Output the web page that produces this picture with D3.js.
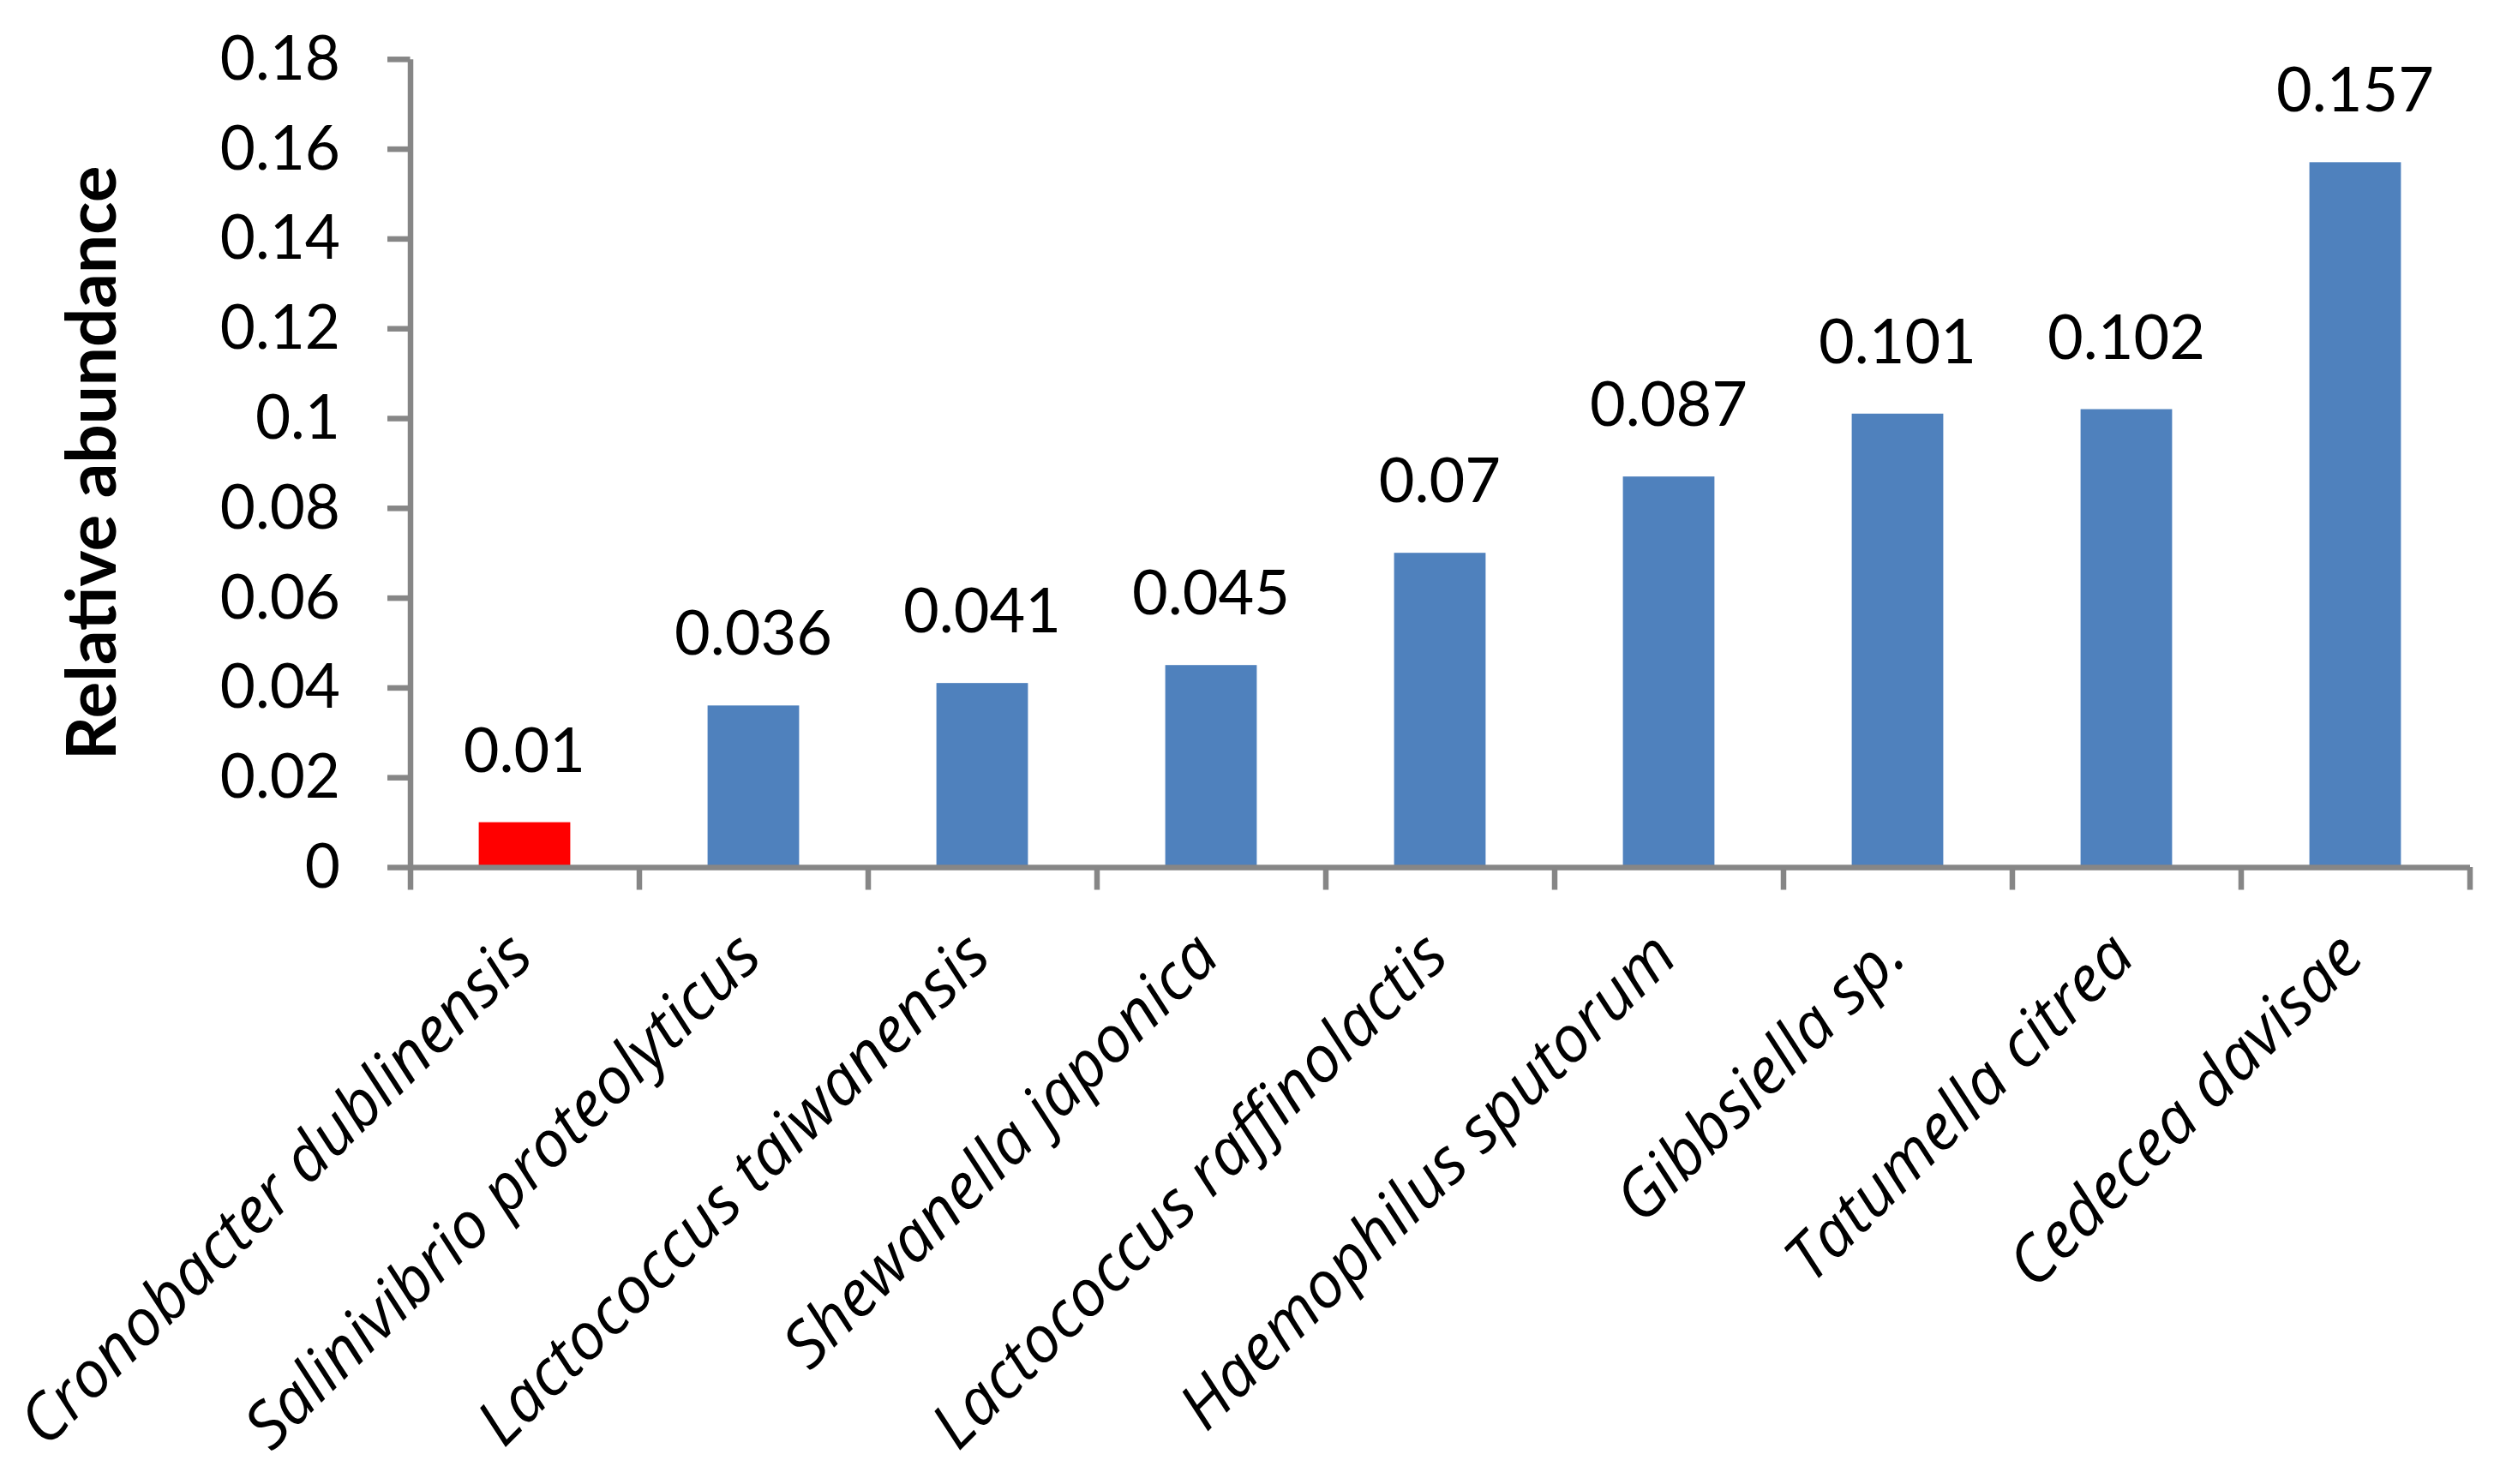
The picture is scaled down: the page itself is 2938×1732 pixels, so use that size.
<!DOCTYPE html>
<html>
<head>
<meta charset="utf-8">
<script src="https://cdn.jsdelivr.net/npm/d3@7"></script>
<style>
  html, body { margin: 0; padding: 0; background: #ffffff; }
  svg { display: block; }
</style>
</head>
<body>
<svg id="chart" width="2938" height="1732"></svg>
<script>
// ---- data ----
const categories = [
  "Cronobacter dublinensis",
  "Salinivibrio proteolyticus",
  "Lactococcus taiwanensis",
  "Shewanella japonica",
  "Lactococcus raffinolactis",
  "Haemophilus sputorum",
  "Gibbsiella sp.",
  "Tatumella citrea",
  "Cedecea davisae"
];
const values = [0.01, 0.036, 0.041, 0.045, 0.07, 0.087, 0.101, 0.102, 0.157];
const valueLabels = ["0.01", "0.036", "0.041", "0.045", "0.07", "0.087", "0.101", "0.102", "0.157"];
const highlighted = ["Cronobacter dublinensis"];
const yTickValues = [0, 0.02, 0.04, 0.06, 0.08, 0.1, 0.12, 0.14, 0.16, 0.18];
const yTickLabels = ["0", "0.02", "0.04", "0.06", "0.08", "0.1", "0.12", "0.14", "0.16", "0.18"];
const yTitle = "Relative abundance";

// ---- layout ----
const X0 = 478.5, X1 = 2881.5, Y0 = 1012, YTOP = 68.8;
const AXIS_COLOR = "#868686";
const AXIS_W = 6.5;
const TICK = 26.5;
const NUM_FONT = "Lato, 'Open Sans', sans-serif";
const LABEL_FONT = "'Open Sans', 'Noto Sans', sans-serif";

const svg = d3.select("#chart");
svg.append("rect").attr("width", 2938).attr("height", 1732).attr("fill", "#ffffff");

const y = d3.scaleLinear().domain([0, 0.18]).range([Y0, YTOP]);
const x = d3.scaleBand().domain(categories).range([X0, X1]).paddingInner(0.6).paddingOuter(0.3);
const xb = d3.scaleLinear().domain([0, categories.length]).range([X0, X1]);

// bars
svg.append("g").selectAll("rect").data(categories).join("rect")
  .attr("x", d => x(d))
  .attr("width", x.bandwidth())
  .attr("y", (d, i) => y(values[i]))
  .attr("height", (d, i) => Y0 - y(values[i]))
  .attr("fill", d => highlighted.includes(d) ? "#FF0000" : "#4F81BD");

// y axis
const yAxis = svg.append("g").attr("transform", `translate(${X0},0)`)
  .call(d3.axisLeft(y).tickValues(yTickValues)
    .tickFormat((d, i) => yTickLabels[i])
    .tickSizeInner(TICK).tickSizeOuter(0).tickPadding(55));
yAxis.select(".domain").attr("stroke", AXIS_COLOR).attr("stroke-width", AXIS_W);
yAxis.selectAll(".tick line").attr("stroke", AXIS_COLOR).attr("stroke-width", AXIS_W);
yAxis.selectAll(".tick text")
  .attr("font-family", NUM_FONT).attr("font-size", 71).attr("fill", "#000")
  .attr("dy", "0.33em");

// x axis (ticks at category boundaries)
const xAxis = svg.append("g").attr("transform", `translate(0,${Y0})`)
  .call(d3.axisBottom(xb).tickValues(d3.range(categories.length + 1))
    .tickFormat("").tickSizeInner(TICK).tickSizeOuter(0));
xAxis.select(".domain").attr("stroke", AXIS_COLOR).attr("stroke-width", AXIS_W);
xAxis.selectAll(".tick line").attr("stroke", AXIS_COLOR).attr("stroke-width", AXIS_W);

// category labels
svg.append("g").selectAll("text").data(categories).join("text")
  .attr("transform", d => `translate(${x(d) + x.bandwidth() / 2 + 13},${Y0 + 108}) rotate(-45)`)
  .attr("text-anchor", "end")
  .attr("font-family", LABEL_FONT).attr("font-style", "italic")
  .attr("font-size", 75).attr("fill", "#000")
  .text(d => d);

// value labels
svg.append("g").selectAll("text").data(categories).join("text")
  .attr("x", d => x(d) + x.bandwidth() / 2)
  .attr("y", (d, i) => y(values[i]) - 59)
  .attr("text-anchor", "middle")
  .attr("font-family", NUM_FONT).attr("font-size", 72).attr("fill", "#000")
  .text((d, i) => valueLabels[i]);

// y title
svg.append("text")
  .attr("transform", `translate(135,${(Y0 + YTOP) / 2}) rotate(-90)`)
  .attr("text-anchor", "middle")
  .attr("font-family", NUM_FONT).attr("font-weight", "bold")
  .attr("font-size", 80).attr("fill", "#000")
  .text(yTitle);
</script>
</body>
</html>
